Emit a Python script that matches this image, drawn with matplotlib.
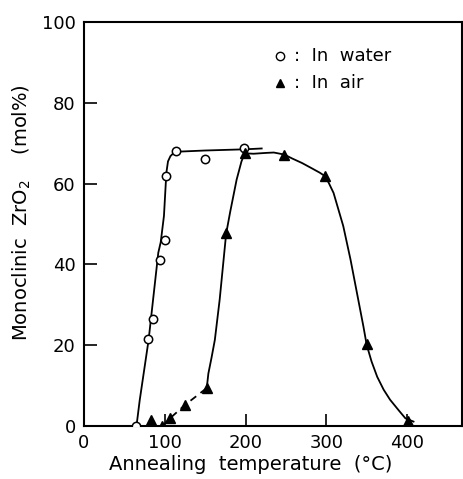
import matplotlib
matplotlib.use("Agg")
import matplotlib.pyplot as plt

water_t = [65, 79, 85, 94, 100, 101, 114, 150, 198]
water_m = [0, 21.6, 26.5, 41, 46, 62, 68, 66, 68.7]
air_t = [83, 97, 107, 125, 152, 176, 199, 248, 298, 350, 401]
air_m = [1.5, 0, 2, 5.2, 9.4, 47.8, 67.7, 67.2, 61.9, 20.3, 1.2]

# hand-drawn guide curves (knots)
water_curve_t = [65, 69, 80, 92, 95, 99, 102, 104, 107, 111, 115, 150, 200, 220]
water_curve_m = [0, 6.4, 21.3, 42.9, 45.5, 52, 62.7, 65.5, 66.8, 67.6, 67.9, 68.2, 68.5, 68.7]
air_dash_t = [97, 107, 125, 152]
air_dash_m = [0, 2, 5.2, 9.4]
air_curve_t = [152, 154, 158, 162, 168, 176, 181, 189, 195, 199, 210, 225, 235, 248,
               258, 270, 282, 292, 298, 303, 309, 321, 330, 338, 346, 350, 356, 363,
               371, 379, 390, 398, 408]
air_curve_m = [9.4, 13, 17, 21.3, 31.3, 47.6, 53, 61, 65.5, 67.5, 67.4, 67.6, 67.7, 67.2,
               66.2, 65.1, 63.8, 62.7, 61.9, 60.2, 57.7, 49.5, 41.2, 32.9, 24.6, 20.1,
               16, 12.2, 9, 6.5, 3.8, 1.9, 1.1]

xticks = [0, 100, 200, 300, 400]
yticks = [0, 20, 40, 60, 80, 100]

fig = plt.figure(figsize=(4.63, 4.79), dpi=100)
ax = fig.add_axes([0.1814, 0.1106, 0.8164, 0.8434])

ax.plot(water_curve_t, water_curve_m, color="black", lw=1.3)
ax.plot(air_dash_t, air_dash_m, color="black", lw=1.3, dashes=(4, 3))
ax.plot(air_curve_t, air_curve_m, color="black", lw=1.3)
ax.plot(water_t, water_m, "o", ms=6, mfc="white", mec="black", mew=1.1, zorder=3)
ax.plot(air_t, air_m, "^", ms=6.5, color="black", zorder=3)

ax.set_xlim(0, 468)
ax.set_ylim(0, 100)
ax.set_xticks(xticks)
ax.set_yticks(yticks)
ax.tick_params(direction="in", length=9, width=1.2, labelsize=13, pad=6)
for s in ax.spines.values():
    s.set_linewidth(1.5)

# legend drawn by hand like the original
ax.plot([0.518], [0.916], "o", ms=6, mfc="white", mec="black", mew=1.0,
        transform=ax.transAxes, clip_on=False)
ax.plot([0.518], [0.849], "^", ms=5.5, color="black",
        transform=ax.transAxes, clip_on=False)
ax.text(0.555, 0.916, ":  In  water", transform=ax.transAxes, fontsize=13,
        va="center", ha="left")
ax.text(0.555, 0.849, ":  In  air", transform=ax.transAxes, fontsize=13,
        va="center", ha="left")

fig.text(251 / 463, 1 - 465 / 479, "Annealing  temperature  (°C)", fontsize=14,
         ha="center", va="center")
fig.text(22 / 463, 1 - 213 / 479, "Monoclinic  ZrO$_2$    (mol%)", fontsize=14,
         ha="center", va="center", rotation=90)

fig.savefig("out.png", dpi=100)
